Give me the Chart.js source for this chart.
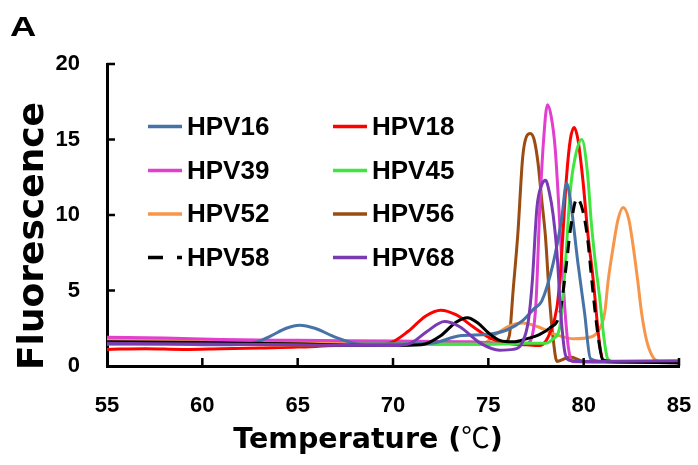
<!DOCTYPE html>
<html>
<head>
<meta charset="utf-8">
<script src="https://cdn.jsdelivr.net/npm/chart.js@4.4.0/dist/chart.umd.min.js"></script>
<style>
  html, body { margin: 0; padding: 0; background: #fff; }
  #wrap { width: 698px; height: 465px; }
</style>
</head>
<body>
<div id="wrap"><canvas id="myChart" width="698" height="465"></canvas></div>
<script>
// tick labels
const xTicks = [55, 60, 65, 70, 75, 80, 85];
const yTicks = [0, 5, 10, 15, 20];

const seriesNames = ['HPV16', 'HPV18', 'HPV39', 'HPV45', 'HPV52', 'HPV56', 'HPV58', 'HPV68'];

// melt curves: temperature (C) / fluorescence
const hpv16T = [55, 58, 61, 62.6, 63.6, 64.4, 65.1, 65.9, 67, 68.3, 70, 72, 73.5, 75, 76, 76.8, 77.4, 77.8, 78.4, 78.85, 79.1, 79.3, 79.7, 80.05, 80.35, 81, 83, 85];
const hpv16F = [1.45, 1.45, 1.4, 1.5, 2.0, 2.5, 2.7, 2.5, 1.9, 1.45, 1.45, 1.5, 2.0, 2.1, 2.4, 3.0, 3.8, 4.3, 6.8, 9.8, 12.1, 11.0, 6.8, 3.5, 0.5, 0.3, 0.3, 0.3];

const hpv18T = [55, 57, 59, 61, 63, 65, 67, 69, 69.8, 70.8, 71.7, 72.5, 73.3, 74.2, 75.1, 76, 77, 77.7, 78.3, 78.6, 78.75, 78.9, 79.1, 79.3, 79.5, 79.7, 79.96, 80.2, 80.5, 80.85, 81.1, 82, 85];
const hpv18F = [1.1, 1.15, 1.1, 1.15, 1.2, 1.25, 1.35, 1.4, 1.5, 2.3, 3.3, 3.7, 3.4, 2.6, 1.85, 1.5, 1.4, 1.35, 2.4, 3.9, 5.7, 8.5, 12.5, 15, 15.8, 15, 12.3, 9, 5.7, 1.3, 0.3, 0.25, 0.25];

const hpv39T = [55, 58, 61, 65, 70, 74, 76, 77, 77.3, 77.5, 77.7, 77.9, 78.1, 78.3, 78.5, 78.65, 78.85, 79.0, 79.2, 79.4, 81, 85];
const hpv39F = [1.9, 1.85, 1.75, 1.7, 1.65, 1.6, 1.5, 1.5, 2.0, 4.2, 10.5, 15, 17.3, 16.5, 14.5, 11.6, 7, 4.0, 1.2, 0.3, 0.25, 0.25];

const hpv45T = [55, 60, 65, 70, 75, 77, 78, 78.4, 78.75, 79.0, 79.3, 79.55, 79.9, 80.2, 80.4, 80.6, 80.85, 81.05, 81.25, 81.5, 85];
const hpv45F = [1.45, 1.45, 1.4, 1.45, 1.45, 1.5, 1.5, 1.8, 2.6, 6, 11.6, 13.8, 15, 12.8, 9.5, 7, 4.4, 2, 0.5, 0.3, 0.3];

const hpv52T = [55, 60, 65, 70, 73, 74.7, 75.5, 76.2, 76.8, 77.6, 78.5, 79.5, 80.3, 80.7, 81.1, 81.29, 81.55, 81.8, 82.07, 82.37, 82.6, 82.83, 83.04, 83.3, 83.63, 84, 85];
const hpv52F = [1.75, 1.7, 1.65, 1.55, 1.5, 1.5, 2.2, 2.7, 2.85, 2.6, 2.1, 1.8, 1.9, 2.2, 3.5, 5.7, 7.9, 9.7, 10.5, 9.7, 7.9, 5.7, 3.5, 1.7, 0.6, 0.3, 0.3];

const hpv56T = [55, 60, 65, 70, 75, 75.8, 76.1, 76.3, 76.55, 76.8, 77.0, 77.2, 77.4, 77.6, 77.8, 78.0, 78.2, 78.4, 78.6, 79.3, 80, 85];
const hpv56F = [1.6, 1.55, 1.5, 1.45, 1.45, 1.5, 2.0, 5, 8.8, 13.8, 15.2, 15.4, 15, 13.5, 11, 8.5, 4.6, 1.8, 0.3, 0.6, 0.3, 0.3];

const hpv58T = [55, 60, 65, 70, 71.5, 72.5, 73.3, 73.9, 74.5, 75.0, 75.6, 76.3, 77, 77.7, 78.2, 78.75, 79.1, 79.3, 79.65, 79.95, 80.2, 80.4, 80.6, 80.8, 81.0, 81.5, 85];
const hpv58F = [1.6, 1.55, 1.45, 1.35, 1.4, 2.0, 2.9, 3.2, 2.8, 2.2, 1.7, 1.6, 1.8, 2.1, 2.5, 3.5, 6.8, 9, 11.1, 10.3, 8.5, 6.0, 3.6, 1.6, 0.4, 0.3, 0.2];

const hpv68T = [55, 60, 65, 70, 70.9, 71.8, 72.7, 73.5, 74.6, 75.6, 76.3, 76.8, 77.1, 77.3, 77.55, 77.8, 78.0, 78.2, 78.4, 78.6, 78.8, 79.0, 79.2, 80, 85];
const hpv68F = [1.5, 1.45, 1.4, 1.35, 1.5, 2.3, 2.95, 2.6, 1.5, 1.05, 1.1, 1.6, 3.0, 5.5, 10.5, 12.0, 12.3, 11.5, 10, 7.5, 3.5, 1.0, 0.4, 0.3, 0.35];

const temps = [hpv16T, hpv18T, hpv39T, hpv45T, hpv52T, hpv56T, hpv58T, hpv68T];
const values = [hpv16F, hpv18F, hpv39F, hpv45F, hpv52F, hpv56F, hpv58F, hpv68F];

const colors = ['#4672a6', '#ff0000', '#e23ecf', '#3fe63f', '#f7964a', '#9a4c12', '#000000', '#7a3bb2'];
const drawOrder = [2, 4, 5, 3, 6, 7, 1, 0];
const dashed = 'HPV58';

const boldArial = '"Liberation Sans", Arial, sans-serif';

const toPoints = (ts, fs) => ts.map((t, i) => ({ x: t, y: fs[i] }));

// the dashed curve reads as solid along its low part in the original
const peakDash = c => (c.p0.parsed.y > 3.3 || c.p1.parsed.y > 3.3) ? [12, 8] : [];

// inward ticks, legend inside the plot, axis titles and panel letter
const decorations = {
    id: 'decorations',
    afterDraw(chart) {
        const { ctx, chartArea: area, scales: { x, y } } = chart;
        ctx.save();

        ctx.strokeStyle = '#000';
        ctx.lineWidth = 2.5;
        ctx.beginPath();
        x.ticks.forEach(t => {
            if (t.value === x.min) return;
            const px = x.getPixelForValue(t.value);
            ctx.moveTo(px, area.bottom);
            ctx.lineTo(px, area.bottom - 8);
        });
        y.ticks.forEach(t => {
            if (t.value === y.min) return;
            const py = y.getPixelForValue(t.value);
            ctx.moveTo(area.left, py);
            ctx.lineTo(area.left + 8, py);
        });
        ctx.stroke();

        const cols = [148, 333];
        const rows = [127.5, 171.5, 215, 258.5];
        chart.data.datasets.forEach((ds, i) => {
            const lx = cols[i % 2];
            const ly = rows[Math.floor(i / 2)];
            ctx.strokeStyle = ds.borderColor;
            ctx.lineWidth = 3.5;
            ctx.setLineDash(ds.label === dashed ? [15, 14] : []);
            ctx.beginPath();
            ctx.moveTo(lx, ly - 1);
            ctx.lineTo(lx + 34, ly - 1);
            ctx.stroke();
            ctx.setLineDash([]);
            ctx.fillStyle = '#000';
            ctx.font = 'bold 26px ' + boldArial;
            ctx.textAlign = 'left';
            ctx.textBaseline = 'middle';
            ctx.fillText(ds.label, lx + 39, ly);
        });

        ctx.fillStyle = '#000';
        ctx.textBaseline = 'alphabetic';
        ctx.textAlign = 'left';
        ctx.save();
        ctx.translate(10, 36);
        ctx.scale(1.3, 1);
        ctx.font = 'bold 28px ' + boldArial;
        ctx.fillText('A', 0, 0);
        ctx.restore();

        ctx.save();
        ctx.translate(43, 236);
        ctx.rotate(-Math.PI / 2);
        ctx.textAlign = 'center';
        ctx.font = 'bold 36px "DejaVu Sans", sans-serif';
        ctx.fillText('Fluorescence', 0, 0);
        ctx.restore();

        const parts = [
            ['Temperature (', 'bold 28.5px "DejaVu Sans", sans-serif'],
            ['\u2103', '28.5px "Noto Sans CJK SC", sans-serif'],
            [')', 'bold 28.5px "DejaVu Sans", sans-serif']
        ];
        let total = 0;
        parts.forEach(p => { ctx.font = p[1]; total += ctx.measureText(p[0]).width; });
        let tx = 368 - total / 2;
        parts.forEach(p => {
            ctx.font = p[1];
            ctx.fillText(p[0], tx, 448);
            tx += ctx.measureText(p[0]).width;
        });

        ctx.restore();
    }
};

const ctx = document.getElementById('myChart');

new Chart(ctx, {
    type: 'line',
    data: {
        datasets: seriesNames.map((name, i) => ({
            label: name,
            data: toPoints(temps[i], values[i]),
            borderColor: colors[i],
            backgroundColor: colors[i],
            borderWidth: 3,
            segment: name === dashed ? { borderDash: peakDash } : {},
            pointRadius: 0,
            cubicInterpolationMode: 'monotone',
            fill: false,
            order: drawOrder[i]
        }))
    },
    options: {
        responsive: false,
        animation: false,
        devicePixelRatio: 1,
        layout: { padding: { left: 0, top: 64, right: 19, bottom: 0 } },
        plugins: {
            legend: { display: false },
            tooltip: { enabled: false }
        },
        scales: {
            x: {
                type: 'linear',
                min: xTicks[0],
                max: xTicks[xTicks.length - 1],
                afterBuildTicks: s => { s.ticks = xTicks.map(v => ({ value: v })); },
                afterFit: s => { s.height = 99; s.paddingLeft = 0; s.paddingRight = 0; },
                grid: { display: false, drawTicks: false },
                border: { display: true, color: '#000', width: 3 },
                ticks: {
                    color: '#000',
                    padding: 27,
                    maxRotation: 0,
                    font: { family: boldArial, size: 22, weight: 'bold' }
                }
            },
            y: {
                min: yTicks[0],
                max: yTicks[yTicks.length - 1],
                afterBuildTicks: s => { s.ticks = yTicks.map(v => ({ value: v })); },
                afterFit: s => { s.width = 107; s.paddingTop = 0; s.paddingBottom = 0; },
                grid: { display: false, drawTicks: false },
                border: { display: true, color: '#000', width: 3 },
                ticks: {
                    color: '#000',
                    padding: 27,
                    font: { family: boldArial, size: 22, weight: 'bold' }
                }
            }
        }
    },
    plugins: [decorations]
});
</script>
</body>
</html>
